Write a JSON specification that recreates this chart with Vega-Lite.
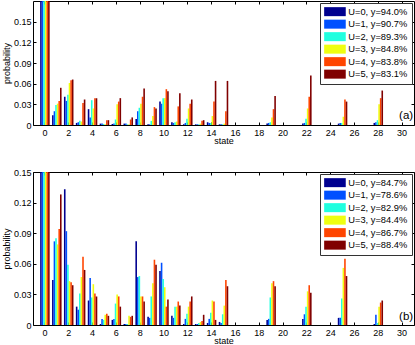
{
  "$schema": "https://vega.github.io/schema/vega-lite/v6.json",
  "padding": {"left": 1, "top": 0, "right": 0, "bottom": 0},
  "bounds": "flush",
  "spacing": 47,
  "config": {
    "font": "Liberation Sans",
    "view": {"stroke": "#000", "strokeWidth": 1},
    "axis": {"grid": false, "domain": false, "labelFontSize": 9, "titleFontSize": 9, "titleFontWeight": "normal", "labelColor": "#000", "titleColor": "#000", "tickColor": "#000", "tickSize": -3},
    "axisX": {"labelPadding": 6, "titlePadding": -1},
    "axisY": {"labelPadding": 5, "titlePadding": 2},
    "legend": {"title": null, "orient": "top-right", "offset": 2, "padding": 4, "strokeColor": "#333", "fillColor": "#fff", "labelFontSize": 9.3, "labelColor": "#000", "symbolType": "M-1,-1H3.8V1H-1Z", "symbolSize": 81, "symbolStrokeWidth": 0, "symbolOpacity": 1, "labelOffset": 15, "rowPadding": 2.5}
  },
  "datasets": {
    "a": [
      {"s":0,"u":0,"v":0.5},{"s":0,"u":1,"v":0.5},{"s":0,"u":2,"v":0.5},{"s":0,"u":3,"v":0.5},{"s":0,"u":4,"v":0.5},{"s":0,"u":5,"v":0.5},
      {"s":1,"u":0,"v":0.014},{"s":1,"u":1,"v":0.020},{"s":1,"u":2,"v":0.029},{"s":1,"u":3,"v":0.031},{"s":1,"u":4,"v":0.035},{"s":1,"u":5,"v":0.054},
      {"s":2,"u":0,"v":0.041},{"s":2,"u":1,"v":0.035},{"s":2,"u":2,"v":0.044},{"s":2,"u":3,"v":0.061},{"s":2,"u":4,"v":0.065},{"s":2,"u":5,"v":0.066},
      {"s":3,"u":0,"v":0.003},{"s":3,"u":1,"v":0.004},{"s":3,"u":2,"v":0.006},{"s":3,"u":3,"v":0.005},{"s":3,"u":4,"v":0.032},{"s":3,"u":5,"v":0.037},
      {"s":4,"u":0,"v":0.023},{"s":4,"u":1,"v":0.011},{"s":4,"u":2,"v":0.036},{"s":4,"u":3,"v":0.024},{"s":4,"u":4,"v":0.039},{"s":4,"u":5,"v":0.039},
      {"s":5,"u":0,"v":0.002},{"s":5,"u":1,"v":0.002},{"s":5,"u":2,"v":0.0015},{"s":5,"u":3,"v":0.001},{"s":5,"u":4,"v":0.007},{"s":5,"u":5,"v":0.007},
      {"s":6,"u":0,"v":0.0015},{"s":6,"u":1,"v":0.002},{"s":6,"u":2,"v":0.008},{"s":6,"u":3,"v":0.030},{"s":6,"u":4,"v":0.034},{"s":6,"u":5,"v":0.039},
      {"s":7,"u":0,"v":0.002},{"s":7,"u":1,"v":0.002},{"s":7,"u":2,"v":0.001},{"s":7,"u":3,"v":0.001},{"s":7,"u":4,"v":0.008},{"s":7,"u":5,"v":0.011},
      {"s":8,"u":0,"v":0.0087},{"s":8,"u":1,"v":0.020},{"s":8,"u":2,"v":0.025},{"s":8,"u":3,"v":0.031},{"s":8,"u":4,"v":0.041},{"s":8,"u":5,"v":0.053},
      {"s":9,"u":0,"v":0.001},{"s":9,"u":1,"v":0.001},{"s":9,"u":2,"v":0.006},{"s":9,"u":3,"v":0.013},{"s":9,"u":4,"v":0.026},{"s":9,"u":5,"v":0.024},
      {"s":10,"u":0,"v":0.034},{"s":10,"u":1,"v":0.031},{"s":10,"u":2,"v":0.039},{"s":10,"u":3,"v":0.039},{"s":10,"u":4,"v":0.052},{"s":10,"u":5,"v":0.049},
      {"s":11,"u":0,"v":0.004},{"s":11,"u":1,"v":0.003},{"s":11,"u":2,"v":0.004},{"s":11,"u":3,"v":0.005},{"s":11,"u":4,"v":0.027},{"s":11,"u":5,"v":0.046},
      {"s":12,"u":0,"v":0.001},{"s":12,"u":1,"v":0.003},{"s":12,"u":2,"v":0.009},{"s":12,"u":3,"v":0.024},{"s":12,"u":4,"v":0.031},{"s":12,"u":5,"v":0.037},
      {"s":13,"u":0,"v":0.001},{"s":13,"u":1,"v":0.001},{"s":13,"u":2,"v":0.001},{"s":13,"u":3,"v":0.002},{"s":13,"u":4,"v":0.006},{"s":13,"u":5,"v":0.007},
      {"s":14,"u":0,"v":0.004},{"s":14,"u":1,"v":0.003},{"s":14,"u":2,"v":0.003},{"s":14,"u":3,"v":0.013},{"s":14,"u":4,"v":0.034},{"s":14,"u":5,"v":0.064},
      {"s":15,"u":0,"v":0.001},{"s":15,"u":1,"v":0.001},{"s":15,"u":2,"v":0.001},{"s":15,"u":3,"v":0.002},{"s":15,"u":4,"v":0.020},{"s":15,"u":5,"v":0.064},
      {"s":19,"u":0,"v":0.002},{"s":19,"u":1,"v":0.003},{"s":19,"u":2,"v":0.004},{"s":19,"u":3,"v":0.011},{"s":19,"u":4,"v":0.023},{"s":19,"u":5,"v":0.042},
      {"s":22,"u":0,"v":0.002},{"s":22,"u":1,"v":0.003},{"s":22,"u":2,"v":0.009},{"s":22,"u":3,"v":0.024},{"s":22,"u":4,"v":0.041},{"s":22,"u":5,"v":0.072},
      {"s":25,"u":0,"v":0.002},{"s":25,"u":1,"v":0.003},{"s":25,"u":2,"v":0.003},{"s":25,"u":3,"v":0.012},{"s":25,"u":4,"v":0.037},{"s":25,"u":5,"v":0.034},
      {"s":28,"u":0,"v":0.003},{"s":28,"u":1,"v":0.004},{"s":28,"u":2,"v":0.007},{"s":28,"u":3,"v":0.030},{"s":28,"u":4,"v":0.039},{"s":28,"u":5,"v":0.050}
    ],
    "b": [
      {"s":0,"u":0,"v":0.5},{"s":0,"u":1,"v":0.5},{"s":0,"u":2,"v":0.5},{"s":0,"u":3,"v":0.5},{"s":0,"u":4,"v":0.5},{"s":0,"u":5,"v":0.5},
      {"s":1,"u":0,"v":0.044},{"s":1,"u":1,"v":0.082},{"s":1,"u":2,"v":0.085},{"s":1,"u":3,"v":0.079},{"s":1,"u":4,"v":0.094},{"s":1,"u":5,"v":0.128},
      {"s":2,"u":0,"v":0.133},{"s":2,"u":1,"v":0.092},{"s":2,"u":2,"v":0.059},{"s":2,"u":3,"v":0.043},{"s":2,"u":4,"v":0.042},{"s":2,"u":5,"v":0.039},
      {"s":3,"u":0,"v":0.018},{"s":3,"u":1,"v":0.015},{"s":3,"u":2,"v":0.031},{"s":3,"u":3,"v":0.047},{"s":3,"u":4,"v":0.067},{"s":3,"u":5,"v":0.054},
      {"s":4,"u":0,"v":0.024},{"s":4,"u":1,"v":0.046},{"s":4,"u":2,"v":0.027},{"s":4,"u":3,"v":0.040},{"s":4,"u":4,"v":0.031},{"s":4,"u":5,"v":0.028},
      {"s":5,"u":0,"v":0.001},{"s":5,"u":1,"v":0.006},{"s":5,"u":2,"v":0.005},{"s":5,"u":3,"v":0.010},{"s":5,"u":4,"v":0.011},{"s":5,"u":5,"v":0.009},
      {"s":6,"u":0,"v":0.005},{"s":6,"u":1,"v":0.006},{"s":6,"u":2,"v":0.021},{"s":6,"u":3,"v":0.030},{"s":6,"u":4,"v":0.028},{"s":6,"u":5,"v":0.018},
      {"s":7,"u":0,"v":0.001},{"s":7,"u":1,"v":0.001},{"s":7,"u":2,"v":0.001},{"s":7,"u":3,"v":0.009},{"s":7,"u":4,"v":0.008},{"s":7,"u":5,"v":0.009},
      {"s":8,"u":0,"v":0.082},{"s":8,"u":1,"v":0.047},{"s":8,"u":2,"v":0.048},{"s":8,"u":3,"v":0.028},{"s":8,"u":4,"v":0.028},{"s":8,"u":5,"v":0.023},
      {"s":9,"u":0,"v":0.008},{"s":9,"u":1,"v":0.007},{"s":9,"u":2,"v":0.028},{"s":9,"u":3,"v":0.041},{"s":9,"u":4,"v":0.064},{"s":9,"u":5,"v":0.059},
      {"s":10,"u":0,"v":0.053},{"s":10,"u":1,"v":0.061},{"s":10,"u":2,"v":0.045},{"s":10,"u":3,"v":0.037},{"s":10,"u":4,"v":0.018},{"s":10,"u":5,"v":0.025},
      {"s":11,"u":0,"v":0.009},{"s":11,"u":1,"v":0.007},{"s":11,"u":2,"v":0.018},{"s":11,"u":3,"v":0.018},{"s":11,"u":4,"v":0.023},{"s":11,"u":5,"v":0.019},
      {"s":12,"u":0,"v":0.001},{"s":12,"u":1,"v":0.006},{"s":12,"u":2,"v":0.011},{"s":12,"u":3,"v":0.018},{"s":12,"u":4,"v":0.023},{"s":12,"u":5,"v":0.028},
      {"s":13,"u":0,"v":0.001},{"s":13,"u":1,"v":0.001},{"s":13,"u":2,"v":0.002},{"s":13,"u":3,"v":0.003},{"s":13,"u":4,"v":0.004},{"s":13,"u":5,"v":0.010},
      {"s":14,"u":0,"v":0.002},{"s":14,"u":1,"v":0.006},{"s":14,"u":2,"v":0.012},{"s":14,"u":3,"v":0.024},{"s":14,"u":4,"v":0.023},{"s":14,"u":5,"v":0.005},
      {"s":15,"u":0,"v":0.003},{"s":15,"u":1,"v":0.002},{"s":15,"u":2,"v":0.0105},{"s":15,"u":3,"v":0.019},{"s":15,"u":4,"v":0.044},{"s":15,"u":5,"v":0.038},
      {"s":19,"u":0,"v":0.005},{"s":19,"u":1,"v":0.006},{"s":19,"u":2,"v":0.027},{"s":19,"u":3,"v":0.041},{"s":19,"u":4,"v":0.043},{"s":19,"u":5,"v":0.038},
      {"s":22,"u":0,"v":0.006},{"s":22,"u":1,"v":0.0105},{"s":22,"u":2,"v":0.018},{"s":22,"u":3,"v":0.033},{"s":22,"u":4,"v":0.039},{"s":22,"u":5,"v":0.0315},
      {"s":25,"u":0,"v":0.007},{"s":25,"u":1,"v":0.007},{"s":25,"u":2,"v":0.026},{"s":25,"u":3,"v":0.056},{"s":25,"u":4,"v":0.065},{"s":25,"u":5,"v":0.048},
      {"s":28,"u":0,"v":0.001},{"s":28,"u":1,"v":0.010},{"s":28,"u":2,"v":0.002},{"s":28,"u":3,"v":0.018},{"s":28,"u":4,"v":0.022},{"s":28,"u":5,"v":0.024}
    ]
  },
  "vconcat": [
    {
      "width": 381, "height": 124,
      "layer": [
        {
          "data": {"name": "a"},
          "mark": {"type": "bar", "clip": true},
          "encoding": {
            "x": {"field": "s", "type": "ordinal", "scale": {"domain": [0,1,2,3,4,5,6,7,8,9,10,11,12,13,14,15,16,17,18,19,20,21,22,23,24,25,26,27,28,29,30], "paddingInner": 0.2, "paddingOuter": 0.6}, "axis": {"values": [0,2,4,6,8,10,12,14,16,18,20,22,24,26,28,30], "labelAngle": 0, "title": "state"}},
            "xOffset": {"field": "u", "type": "nominal", "scale": {"paddingInner": 0, "paddingOuter": 0}},
            "y": {"field": "v", "type": "quantitative", "scale": {"domain": [0, 0.18], "nice": false}, "axis": {"values": [0, 0.03, 0.06, 0.09, 0.12, 0.15], "format": ".2~f", "title": "probability"}},
            "color": {"field": "u", "type": "nominal", "scale": {"domain": [0,1,2,3,4,5], "range": ["#00008F","#0050FF","#20FFDF","#EFFF10","#FF4500","#800000"]}, "legend": {"labelExpr": "['U=0, y=94.0%','U=1, y=90.7%','U=2, y=89.3%','U=3, y=84.8%','U=4, y=83.8%','U=5, y=83.1%'][datum.value]"}}
          }
        },
        {
          "data": {"values": [{}]},
          "mark": {"type": "text", "fontSize": 11.5, "dx": 4, "color": "#000"},
          "encoding": {
            "x": {"datum": 30, "type": "ordinal", "axis": {"orient": "top", "values": [0,2,4,6,8,10,12,14,16,18,20,22,24,26,28,30], "labels": false, "title": null}},
            "y": {"datum": 0.013, "type": "quantitative", "axis": {"orient": "right", "values": [0, 0.03, 0.06, 0.09, 0.12, 0.15], "labels": false, "title": null}},
            "text": {"value": "(a)"}
          }
        }
      ],
      "resolve": {"axis": {"x": "independent", "y": "independent"}}
    },
    {
      "width": 381, "height": 153,
      "layer": [
        {
          "data": {"name": "b"},
          "mark": {"type": "bar", "clip": true},
          "encoding": {
            "x": {"field": "s", "type": "ordinal", "scale": {"domain": [0,1,2,3,4,5,6,7,8,9,10,11,12,13,14,15,16,17,18,19,20,21,22,23,24,25,26,27,28,29,30], "paddingInner": 0.2, "paddingOuter": 0.6}, "axis": {"values": [0,2,4,6,8,10,12,14,16,18,20,22,24,26,28,30], "labelAngle": 0, "title": "state"}},
            "xOffset": {"field": "u", "type": "nominal", "scale": {"paddingInner": 0, "paddingOuter": 0}},
            "y": {"field": "v", "type": "quantitative", "scale": {"domain": [0, 0.15], "nice": false}, "axis": {"values": [0, 0.03, 0.06, 0.09, 0.12, 0.15], "format": ".2~f", "title": "probability"}},
            "color": {"field": "u", "type": "nominal", "scale": {"domain": [0,1,2,3,4,5], "range": ["#00008F","#0050FF","#20FFDF","#EFFF10","#FF4500","#800000"]}, "legend": {"labelExpr": "['U=0, y=84.7%','U=1, y=78.6%','U=2, y=82.9%','U=3, y=84.4%','U=4, y=86.7%','U=5, y=88.4%'][datum.value]"}}
          }
        },
        {
          "data": {"values": [{}]},
          "mark": {"type": "text", "fontSize": 11.5, "dx": 4, "color": "#000"},
          "encoding": {
            "x": {"datum": 30, "type": "ordinal", "axis": {"orient": "top", "values": [0,2,4,6,8,10,12,14,16,18,20,22,24,26,28,30], "labels": false, "title": null}},
            "y": {"datum": 0.008, "type": "quantitative", "axis": {"orient": "right", "values": [0, 0.03, 0.06, 0.09, 0.12, 0.15], "labels": false, "title": null}},
            "text": {"value": "(b)"}
          }
        }
      ],
      "resolve": {"axis": {"x": "independent", "y": "independent"}}
    }
  ],
  "resolve": {"scale": {"color": "independent", "y": "independent", "x": "independent"}, "legend": {"color": "independent"}}
}
